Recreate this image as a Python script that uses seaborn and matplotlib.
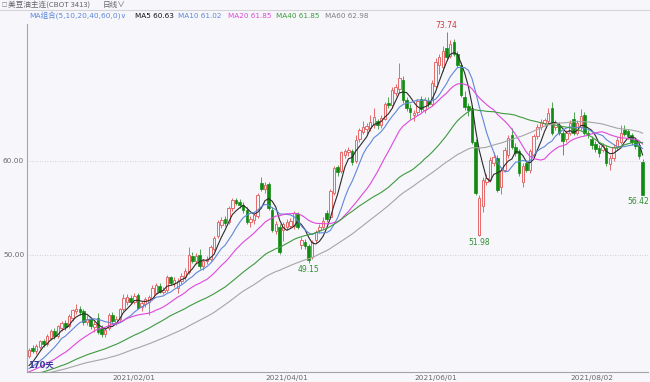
import matplotlib
matplotlib.use('Agg')
import matplotlib.pyplot as plt
import numpy as np
import pandas as pd
import seaborn as sns

# daily OHLC, CBOT soybean oil, 170 sessions from 2020-12-17
opens = [39.2, 40.1, 39.8, 40.2, 40.8, 40.5, 41.2, 41.9, 41.4, 42.2,
         42.8, 42.4, 43.3, 44.0, 44.2, 44.0, 42.9, 43.2, 42.3, 43.3,
         42.2, 41.6, 42.2, 43.6, 42.8, 43.2, 44.2, 45.0, 45.4, 45.0,
         45.7, 44.5, 44.8, 45.0, 45.4, 46.0, 46.7, 46.1, 46.3, 47.6,
         47.0, 46.5, 47.2, 47.6, 48.2, 49.9, 49.3, 50.0, 48.8, 49.3,
         49.6, 50.6, 52.0, 53.2, 53.8, 53.5, 55.0, 55.8, 55.6, 55.3,
         54.8, 53.5, 53.7, 54.1, 57.6, 57.0, 57.5, 54.8, 52.5, 53.0,
         52.6, 53.0, 53.1, 53.1, 54.3, 51.0, 51.4, 50.9, 49.8, 51.6,
         52.6, 53.0, 54.5, 54.0, 56.6, 59.3, 58.9, 60.6, 60.9, 61.0,
         60.0, 62.3, 63.1, 63.4, 63.5, 63.8, 64.2, 63.8, 64.5, 66.2,
         65.9, 67.2, 67.6, 68.6, 66.5, 65.6, 64.9, 65.2, 66.6, 65.4,
         66.4, 66.0, 68.0, 70.2, 70.0, 72.0, 71.2, 72.6, 71.4, 70.2,
         66.8, 65.8, 65.6, 62.0, 52.1, 55.2, 57.8, 58.0, 59.8, 60.3,
         57.2, 59.0, 60.6, 62.8, 61.5, 61.0, 57.8, 59.8, 59.0, 60.6,
         62.6, 63.6, 64.0, 64.2, 65.6, 63.6, 63.8, 63.0, 62.3, 63.0,
         64.4, 63.0, 63.6, 64.9, 63.0, 62.3, 61.8, 61.4, 61.2, 61.4,
         59.7, 60.3, 61.5, 62.0, 63.3, 63.2, 62.8, 62.2, 61.7, 59.9]
highs = [40.1, 40.4, 40.5, 41.0, 41.1, 41.6, 42.1, 42.2, 42.6, 43.0,
         43.1, 43.7, 44.3, 44.8, 44.6, 44.2, 43.6, 43.4, 43.0, 43.8,
         42.5, 42.3, 43.8, 43.9, 43.5, 44.4, 45.8, 45.8, 45.7, 45.9,
         46.0, 45.1, 45.5, 45.7, 46.8, 47.0, 47.0, 46.6, 47.9, 47.8,
         47.6, 47.5, 48.1, 48.6, 50.8, 50.3, 50.2, 50.6, 49.6, 49.9,
         51.0, 52.0, 53.7, 54.0, 54.1, 55.2, 56.0, 56.1, 55.9, 55.6,
         55.1, 54.1, 54.5, 56.6, 58.3, 57.7, 57.8, 55.1, 53.6, 53.3,
         53.5, 53.8, 53.9, 54.7, 54.6, 51.9, 51.7, 51.2, 51.6, 52.6,
         53.3, 54.0, 54.8, 57.0, 59.5, 59.6, 61.1, 61.3, 61.5, 61.3,
         62.8, 63.5, 64.2, 64.0, 64.9, 65.6, 64.5, 64.9, 66.3, 66.8,
         67.8, 68.2, 70.4, 69.0, 66.8, 66.0, 65.4, 66.6, 66.9, 66.8,
         66.8, 68.6, 70.9, 71.4, 72.2, 73.74, 72.8, 73.0, 71.7, 70.5,
         67.4, 66.2, 65.9, 62.3, 56.4, 58.3, 58.6, 60.4, 60.9, 60.6,
         59.3, 61.5, 62.8, 63.5, 61.9, 61.3, 59.8, 60.1, 61.3, 62.9,
         63.9, 64.4, 64.6, 65.6, 66.3, 64.3, 64.1, 63.3, 63.3, 64.3,
         65.2, 64.3, 65.5, 65.2, 63.3, 62.6, 62.1, 61.7, 61.9, 61.7,
         60.6, 61.8, 62.5, 63.8, 63.8, 63.4, 63.0, 62.4, 61.9, 60.2]
lows = [39.0, 39.6, 39.5, 40.0, 40.2, 40.3, 41.0, 41.1, 41.2, 41.9,
        42.0, 42.2, 43.0, 43.7, 43.6, 42.6, 42.5, 42.1, 41.8, 41.6,
        41.3, 41.3, 42.0, 42.8, 42.6, 43.0, 44.0, 44.7, 44.8, 44.8,
        44.2, 44.0, 44.5, 43.6, 45.2, 45.8, 45.9, 45.8, 46.1, 46.8,
        46.6, 45.9, 46.9, 47.3, 48.0, 49.1, 49.0, 48.5, 48.4, 49.0,
        49.4, 50.4, 51.8, 52.9, 53.1, 53.3, 54.7, 55.3, 55.0, 54.5,
        53.3, 53.0, 53.3, 53.9, 56.8, 56.6, 54.8, 52.4, 52.2, 50.1,
        51.5, 52.7, 52.9, 52.8, 52.8, 50.6, 50.6, 49.15, 49.6, 51.3,
        52.3, 52.8, 53.5, 53.8, 56.4, 58.4, 58.7, 60.3, 60.5, 59.6,
        59.8, 62.0, 62.9, 62.8, 63.2, 63.5, 63.4, 63.5, 64.3, 65.6,
        65.6, 66.9, 67.3, 66.2, 65.3, 64.4, 64.2, 64.9, 65.2, 65.1,
        65.7, 65.8, 67.7, 69.2, 69.6, 70.7, 70.9, 71.1, 70.0, 66.8,
        65.4, 64.8, 61.8, 56.4, 51.98, 54.6, 57.4, 57.8, 59.5, 56.7,
        56.5, 58.8, 60.3, 61.3, 60.5, 58.4, 57.2, 58.8, 58.7, 60.3,
        62.3, 63.3, 63.7, 64.0, 62.7, 63.3, 62.8, 60.6, 62.0, 62.8,
        62.8, 62.7, 63.3, 62.8, 62.4, 61.3, 60.9, 60.4, 60.9, 59.5,
        59.0, 60.0, 61.2, 61.8, 62.6, 62.3, 61.7, 61.3, 60.2, 56.42]
closes = [39.9, 39.8, 40.3, 40.8, 40.5, 41.4, 41.9, 41.4, 42.4, 42.8,
          42.3, 43.5, 44.1, 44.3, 43.9, 42.9, 43.2, 42.4, 42.7, 41.8,
          41.6, 42.0, 43.6, 43.0, 43.2, 44.2, 45.4, 45.5, 45.0, 45.6,
          44.4, 44.9, 45.3, 45.5, 46.5, 46.8, 46.1, 46.3, 47.6, 47.0,
          47.3, 47.2, 47.8, 48.3, 50.0, 49.3, 49.9, 48.8, 49.4, 49.6,
          50.8, 51.8, 53.5, 53.7, 53.4, 55.0, 55.8, 55.5, 55.3, 54.8,
          53.5, 53.8, 54.2, 56.4, 57.0, 57.4, 55.0, 52.7, 53.3, 50.3,
          53.3, 53.5, 53.6, 54.5, 53.0, 51.6, 50.9, 49.5, 51.4, 52.4,
          53.0, 53.6, 53.8, 56.8, 59.2, 58.8, 60.9, 61.0, 61.2, 59.9,
          62.2, 63.3, 63.6, 63.7, 64.1, 64.7, 63.8, 64.6, 66.0, 65.9,
          67.5, 67.9, 68.8, 66.5, 65.6, 65.2, 65.1, 66.4, 65.5, 66.5,
          66.0, 68.3, 70.5, 71.0, 71.7, 71.0, 72.4, 71.4, 70.2, 67.0,
          65.7, 65.4, 62.0, 56.6, 56.1, 58.0, 58.2, 60.1, 60.4, 56.9,
          59.0, 61.2, 62.4, 61.5, 60.8, 58.7, 59.5, 59.0, 61.0, 62.6,
          63.6, 64.1, 64.3, 65.1, 63.0, 64.0, 63.0, 62.1, 63.0, 64.0,
          63.0, 64.0, 64.8, 63.0, 62.7, 61.7, 61.3, 60.8, 61.6, 59.8,
          60.3, 61.5, 62.2, 63.0, 62.9, 62.6, 62.0, 61.6, 60.5, 56.42]
# closes before the window, only feed the moving averages
history_close = [36.2, 36.5, 36.3, 36.6, 36.9, 36.7, 36.4, 36.8, 37.1, 36.9,
                 36.6, 37.0, 37.2, 37.0, 36.8, 37.2, 37.4, 37.1, 36.9, 37.3,
                 37.0, 36.7, 37.1, 36.9, 36.6, 36.4, 36.7, 36.5, 36.9, 37.2,
                 36.8, 36.5, 36.9, 37.3, 37.0, 36.6, 37.1, 37.4, 36.9, 36.7,
                 37.0, 36.8, 37.2, 36.9, 37.1, 37.3, 37.5, 37.2, 37.6, 37.9,
                 37.6, 37.4, 37.8, 37.5, 37.7, 38.0, 37.6, 37.9, 37.8]

ma_windows = [5, 10, 20, 40, 60]
ma_names = ['MA5', 'MA10', 'MA20', 'MA40', 'MA60']
ma_last = ['60.63', '61.02', '61.85', '61.85', '62.98']
ma_colors = ['#2b2b2b', '#5f88d8', '#e048dc', '#3f9a3f', '#a6a6a6']
legend_x = [135, 178, 228, 276, 325]

holidays = ['2020-12-25', '2021-01-01', '2021-01-18', '2021-02-15',
            '2021-04-02', '2021-05-31', '2021-07-05']
tick_dates = ['2021/02/01', '2021/04/01', '2021/06/01', '2021/08/02']
marked_lows = [49.15, 51.98]

bg = '#f6f6fb'
up_color = '#e46a6a'
down_color = '#118a11'

dates = pd.bdate_range('2020-12-17', periods=len(closes), freq='C', holidays=holidays)
labels = dates.strftime('%Y/%m/%d').tolist()
n = len(closes)
idx = np.arange(n)

all_close = pd.Series(history_close + closes)
frames = []
for name, w in zip(ma_names, ma_windows):
    ma = all_close.rolling(w).mean().to_numpy()[-n:]
    frames.append(pd.DataFrame({'idx': idx, 'value': ma, 'ma': name}))
ma_df = pd.concat(frames)

fig = plt.figure(figsize=(6.5, 3.82), dpi=100)
fig.patch.set_facecolor(bg)
ax = fig.add_axes([27 / 650, 10 / 382, 621 / 650, 348 / 382])
ax.set_facecolor(bg)

o = np.array(opens)
c = np.array(closes)
h = np.array(highs)
l = np.array(lows)
up = c >= o
wick_colors = np.where(up, up_color, '#4ea54e')
ax.vlines(idx, l, h, colors=wick_colors, linewidth=0.7, zorder=1)
bottom = np.minimum(o, c)
height = np.maximum(np.abs(c - o), 0.06)
ax.bar(idx[up], height[up], bottom=bottom[up], width=0.68, facecolor=bg,
       edgecolor=up_color, linewidth=0.7, zorder=2)
ax.bar(idx[~up], height[~up], bottom=bottom[~up], width=0.68, facecolor=down_color,
       edgecolor=down_color, linewidth=0.5, zorder=2)

sns.lineplot(data=ma_df, x='idx', y='value', hue='ma',
             palette=dict(zip(ma_names, ma_colors)), linewidth=0.8,
             legend=False, ax=ax, zorder=3)

ax.set_xlim(-0.55, n + 0.5)
ax.set_ylim(37.55, 74.55)
ax.set_yticks([50, 60])
ax.set_yticklabels(['50.00', '60.00'])
ax.set_xticks([labels.index(t) for t in tick_dates])
ax.set_xticklabels(tick_dates)
ax.tick_params(length=0, labelsize=5.3, labelcolor='#6a6a6a', pad=2)
ax.set_xlabel('')
ax.set_ylabel('')
ax.grid(axis='y', linestyle=(0, (1, 2)), color='#c4c4c8', linewidth=0.6)
ax.grid(axis='x', visible=False)
for side in ['top', 'right']:
    ax.spines[side].set_visible(False)
for side in ['left', 'bottom']:
    ax.spines[side].set_color('#a4a4a8')
    ax.spines[side].set_linewidth(0.8)

# extreme labels
top_i = int(np.argmax(h))
ax.annotate(f'{h[top_i]:.2f}', (top_i, h[top_i]), xytext=(0, 1.5),
            textcoords='offset points', ha='center', va='bottom',
            fontsize=5.5, color='#d23a3a')
for v in marked_lows:
    i = lows.index(v)
    ax.annotate(f'{v:.2f}', (i, v), xytext=(0, -1.5), textcoords='offset points',
                ha='center', va='top', fontsize=5.5, color='#2f8f2f')
ax.annotate(f'{c[-1]:.2f}', (n - 1, l[-1]), xytext=(-3, -1.5), textcoords='offset points',
            ha='center', va='top', fontsize=5.5, color='#2f8f2f')

fam = ['DejaVu Sans', 'Noto Sans CJK SC']
cjk = ['Noto Sans CJK SC', 'DejaVu Sans']
fig.text(2 / 650, 1 - 4.5 / 382, '□', fontsize=4, color='#777777', va='center', family=fam)
fig.text(8 / 650, 1 - 4.5 / 382, '美豆油主连(CBOT 3413)', fontsize=5.5, color='#666666',
         va='center', family=cjk)
fig.text(103 / 650, 1 - 4.5 / 382, '日线∨', fontsize=5.5, color='#666666',
         va='center', family=cjk)
fig.add_artist(plt.Line2D([0, 1], [1 - 10 / 382, 1 - 10 / 382], color='#d4d4d8', linewidth=0.8))

fig.text(29 / 650, 1 - 16 / 382, 'MA组合(5,10,20,40,60,0)∨', fontsize=5.4, color='#5f88d8',
         va='center', family=fam)
for name, val, col, x in zip(ma_names, ma_last, ma_colors, legend_x):
    col = '#111111' if name == 'MA5' else ('#808080' if name == 'MA60' else col)
    fig.text(x / 650, 1 - 16 / 382, f'{name} {val}', fontsize=5.2, color=col,
             va='center', family=fam)

fig.text(28 / 650, 1 - 365 / 382, '170天', fontsize=6, color='#3b3b9a', va='center',
         fontweight='bold', family=fam)

fig.savefig('out.png', dpi=100, facecolor=bg)
